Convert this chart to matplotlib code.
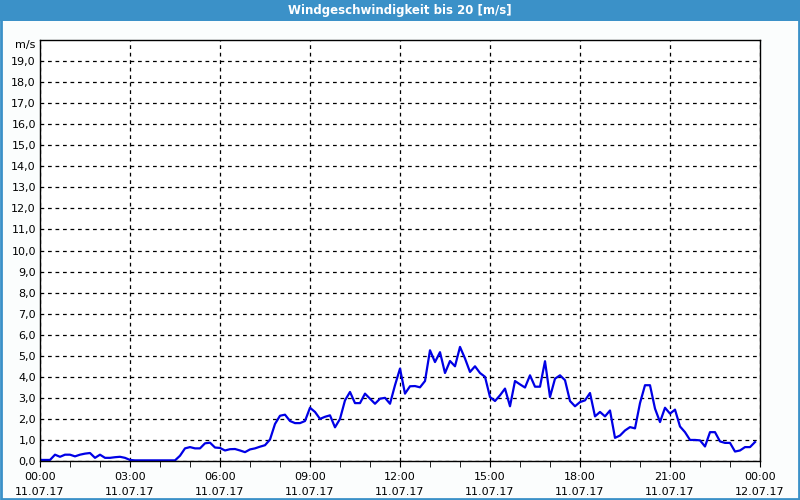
import numpy as np
import matplotlib
matplotlib.use('Agg')
import matplotlib.pyplot as plt
from matplotlib.patches import Rectangle

# 10-minute samples, 11.07.17 00:00 .. 23:50
wind = [0.05, 0.05, 0.05, 0.3, 0.2, 0.3, 0.3, 0.22, 0.3, 0.35, 0.38, 0.15,
        0.3, 0.15, 0.15, 0.18, 0.2, 0.15, 0.05, 0.03, 0.03, 0.03, 0.03, 0.03,
        0.03, 0.03, 0.03, 0.03, 0.25, 0.6, 0.66, 0.6, 0.6, 0.84, 0.87, 0.64,
        0.62, 0.5, 0.56, 0.57, 0.5, 0.42, 0.55, 0.6, 0.68, 0.75, 1.02, 1.76,
        2.15, 2.2, 1.9, 1.8, 1.8, 1.9, 2.53, 2.33, 2.0, 2.1, 2.17, 1.6,
        2.0, 2.88, 3.28, 2.75, 2.75, 3.2, 2.96, 2.72, 2.96, 3.0, 2.72, 3.6,
        4.39, 3.2, 3.55, 3.56, 3.5, 3.8, 5.26, 4.7, 5.17, 4.18, 4.75, 4.5,
        5.42, 4.87, 4.23, 4.5, 4.18, 4.0, 3.04, 2.85, 3.12, 3.44, 2.6, 3.8,
        3.64, 3.49, 4.07, 3.53, 3.53, 4.74, 3.04, 3.91, 4.07, 3.84, 2.85, 2.6,
        2.8, 2.88, 3.23, 2.12, 2.33, 2.12, 2.4, 1.1, 1.21, 1.45, 1.61, 1.55,
        2.75, 3.6, 3.6, 2.49, 1.85, 2.53, 2.25, 2.44, 1.64, 1.37, 1.0, 1.0,
        0.98, 0.69, 1.37, 1.37, 0.93, 0.86, 0.86, 0.45, 0.5, 0.66, 0.66, 0.9]
hours = np.arange(len(wind)) / 6.0

tick_hours = [0, 3, 6, 9, 12, 15, 18, 21, 24]
tick_times = ['00:00', '03:00', '06:00', '09:00', '12:00', '15:00', '18:00', '21:00', '00:00']
tick_dates = ['11.07.17'] * 8 + ['12.07.17']
y_ticks = list(range(20))

title = 'Windgeschwindigkeit bis 20 [m/s]'
bar_col = '#3b91c8'

fig = plt.figure(figsize=(8, 5), dpi=100, facecolor='#fbfdfd')
ax = fig.add_axes([0.05, 0.078, 0.9, 0.842])

# title bar and frame
fig.patches.append(Rectangle((0, 0.958), 1, 0.042, transform=fig.transFigure,
                             facecolor=bar_col, edgecolor='none', zorder=0))
fig.patches.append(Rectangle((0.001, 0.002), 0.998, 0.996, transform=fig.transFigure,
                             facecolor='none', edgecolor=bar_col, lw=2, zorder=0))
fig.text(0.5, 0.979, title, color='white', fontsize=8.5, fontweight='bold',
         ha='center', va='center')

ax.plot(hours, wind, color='#0000e6', lw=1.6)

ax.set_xlim(0, 24)
ax.set_ylim(0, 20)
ax.set_facecolor('white')

ax.set_yticks(y_ticks)
ax.set_yticklabels([f'{v},0' for v in y_ticks], fontsize=8)
ax.tick_params(axis='y', length=0, pad=3)

ax.set_xticks(tick_hours)
ax.set_xticklabels([f'{t}\n{d}' for t, d in zip(tick_times, tick_dates)],
                   fontsize=8, linespacing=1.6)
ax.set_xticks(range(25), minor=True)
ax.tick_params(axis='x', which='both', length=4, direction='out', pad=4)

ax.grid(True, which='major', color='black', ls=(0, (3, 3)), lw=0.9)
for s in ax.spines.values():
    s.set_linewidth(1.0)

ax.text(-0.006, 1.0, 'm/s', transform=ax.transAxes, ha='right', va='top', fontsize=8)

fig.savefig('out.png', dpi=100, facecolor=fig.get_facecolor())
